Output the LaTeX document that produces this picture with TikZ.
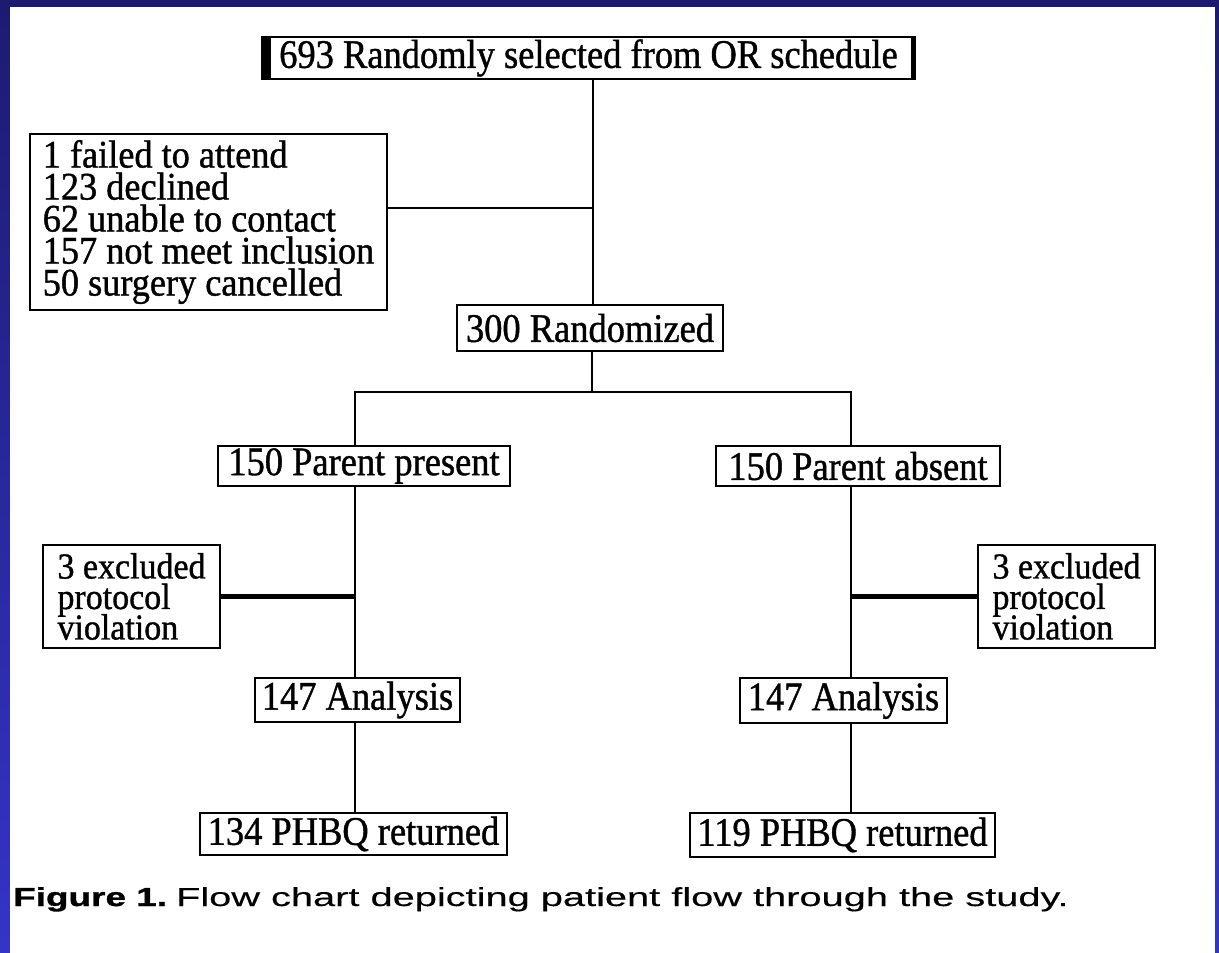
\documentclass[tikz,border=0pt]{standalone}
\usepackage{fontspec}
\newfontfamily\scan[FakeStretch=0.9,FakeBold=1.0]{Liberation Serif}
\newfontfamily\scanw[FakeStretch=0.93,FakeBold=1.0]{Liberation Serif}
\newfontfamily\capf[FakeStretch=1.53,FakeBold=0.3]{Liberation Sans}
\newfontfamily\capb[FakeStretch=1.42,FakeBold=1.2]{Liberation Sans Bold}
\definecolor{navy}{RGB}{29,27,112}
\definecolor{bluebot}{RGB}{52,52,200}
\AtBeginDocument{\lineskiplimit=-100pt\relax}
\begin{document}
\begin{tikzpicture}[x=1pt,y=-1pt,
  box/.style={draw, line width=2pt, inner sep=0pt,
    font=\scan\fontsize{40.5}{31}\selectfont},
  list/.style={font=\scanw\fontsize{39}{32}\selectfont},
  small/.style={font=\scanw\fontsize{36.5}{30.5}\selectfont},
  link/.style={line width=2.6pt},
  heavy/.style={line width=4.5pt}]
\useasboundingbox (0,0) rectangle (1219,953);
\fill[top color=navy, bottom color=bluebot] (0,0) rectangle (1219,953);
\fill[white] (10,7) rectangle (1215,953);

% boxes
\node[box, minimum width=653pt, minimum height=42pt] (top) at (588.5,58)
  {693 Randomly selected from OR schedule};
\fill (top.north west) rectangle ++(10,42);
\fill (top.north east) rectangle ++(-5,42);

\node[box, list, minimum width=357pt, minimum height=176pt, align=left] (excl) at (208.5,222)
  {1 failed to attend\\123 declined\\62 unable to contact\\157 not meet inclusion\\50 surgery cancelled};

\node[box, minimum width=266pt, minimum height=46pt] (rand) at (590,328) {300 Randomized};

\node[box, minimum width=292pt, minimum height=40pt] (pp) at (364,466) {150 Parent present};
\node[box, minimum width=284pt, minimum height=40pt] (pa) at (858,466) {150 Parent absent};

\node[box, small, minimum width=177pt, minimum height=103pt, align=left] (exL) at (131.5,596.5)
  {3 excluded\\protocol\\violation};
\node[box, small, minimum width=177pt, minimum height=103pt, align=left] (exR) at (1066.5,596.5)
  {3 excluded\\protocol\\violation};

\node[box, minimum width=205pt, minimum height=44pt] (anL) at (357.5,700) {147 Analysis};
\node[box, minimum width=207pt, minimum height=45pt] (anR) at (843.5,700.5) {147 Analysis};

\node[box, minimum width=307pt, minimum height=42pt] (reL) at (353.5,834) {134 PHBQ returned};
\node[box, minimum width=305pt, minimum height=44pt] (reR) at (842.5,835) {119 PHBQ returned};

% junctions
\coordinate (j1) at (593,208);
\coordinate (br) at (592,392);
\coordinate (lv) at (355,392);
\coordinate (rv) at (851,392);

% connectors
\draw[link] (top.south -| j1) -- (rand.north -| j1);
\draw[link] (excl.east |- j1) -- (j1);
\draw[link] (rand.south -| br) -- (br);
\draw[link] (lv |- pp.north) -- (lv) -- (rv) -- (rv |- pa.north);
\draw[link] (lv |- pp.south) -- (lv |- anL.north);
\draw[link] (rv |- pa.south) -- (rv |- anR.north);
\draw[heavy] (exL.east) -- (exL.east -| lv);
\draw[heavy] (exR.west) -- (exR.west -| rv);
\draw[link] (lv |- anL.south) -- (lv |- reL.north);
\draw[link] (rv |- anR.south) -- (rv |- reR.north);

% caption
\node[anchor=base west, inner sep=0pt, font=\capf\fontsize{26}{30}\selectfont] (cap) at (13,906)
  {{\capb Figure 1.}\hspace{9pt}Flow chart depicting patient flow through the study.};
\end{tikzpicture}
\end{document}
